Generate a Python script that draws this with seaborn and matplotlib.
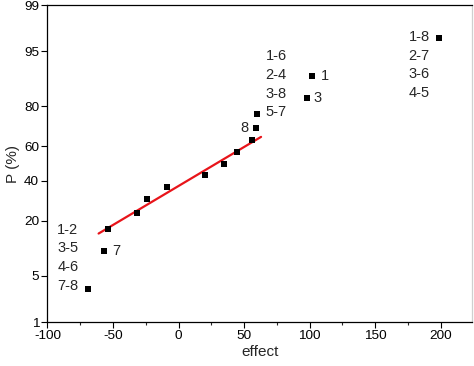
"""
Normal probability plot of effects (probit y axis).
Output: out.png
"""

import math

import matplotlib

matplotlib.use("Agg")
import matplotlib.pyplot as plt
import numpy as np
import pandas as pd
import seaborn as sns
from matplotlib.ticker import FixedLocator, MultipleLocator


# effects (x) and cumulative probability in % (y)
effects = [-69, -57, -54, -32, -24, -9, 20, 35, 45, 56, 59, 60, 98, 102, 199]
probability = [3.3, 10.0, 16.7, 23.3, 30.0, 36.7, 43.3, 50.0, 56.7, 63.3, 70.0, 76.7, 83.3, 90.0, 96.7]

# fitted red line, two ends
fit_effect = [-61, 63]
fit_probability = [15.2, 65.2]

y_ticks = [1, 5, 20, 40, 60, 80, 95, 99]
x_ticks = [-100, -50, 0, 50, 100, 150, 200]

# alias labels: (text, index of the point it belongs to)
point_labels = {
    "left_group": ("1-2\n3-5\n4-6\n7-8", 0),
    "seven": ("7", 1),
    "eight": ("8", 10),
    "mid_group": ("1-6\n2-4\n3-8\n5-7", 11),
    "three": ("3", 12),
    "one": ("1", 13),
    "right_group": ("1-8\n2-7\n3-6\n4-5", 14),
}

_erf = np.vectorize(math.erf, otypes=[float])


def norm_cdf(z):
    return 0.5 * (1.0 + _erf(np.asarray(z, dtype=float) / math.sqrt(2.0)))


def probit(p_percent):
    p = np.clip(np.asarray(p_percent, dtype=float) / 100.0, 1e-9, 1 - 1e-9)
    lo = np.full_like(p, -8.0)
    hi = np.full_like(p, 8.0)
    for _ in range(60):
        mid = 0.5 * (lo + hi)
        below = norm_cdf(mid) < p
        lo = np.where(below, mid, lo)
        hi = np.where(below, hi, mid)
    return 0.5 * (lo + hi)


def inverse_probit(z):
    return 100.0 * norm_cdf(z)


def main() -> None:
    sns.set_style("ticks")
    plt.rcParams["font.family"] = ["Liberation Sans", "DejaVu Sans"]
    plt.rcParams["font.size"] = 10
    plt.rcParams["axes.unicode_minus"] = False

    df = pd.DataFrame({"effect": effects, "P": probability})
    fit_df = pd.DataFrame({"effect": fit_effect, "P": fit_probability})

    fig = plt.figure(figsize=(4.74, 3.66), dpi=100)
    ax = fig.add_axes([0.1002, 0.1202, 0.8956, 0.8661])
    ax.set_yscale("function", functions=(probit, inverse_probit))

    sns.lineplot(data=fit_df, x="effect", y="P", ax=ax, color="#e8141a", linewidth=1.6)
    sns.scatterplot(
        data=df, x="effect", y="P", ax=ax, marker="s", color="black",
        s=19, linewidth=0, zorder=3,
    )

    ax.set_xlim(-100, 224)
    ax.set_ylim(1, 99)
    ax.xaxis.set_major_locator(FixedLocator(x_ticks))
    ax.xaxis.set_minor_locator(MultipleLocator(25))
    ax.yaxis.set_major_locator(FixedLocator(y_ticks))
    ax.yaxis.set_minor_locator(FixedLocator([]))
    ax.set_yticklabels([str(t) for t in y_ticks])
    ax.tick_params(axis="both", which="major", length=4, width=0.8, direction="out",
                   labelsize=9.7, colors="black", pad=2)
    ax.tick_params(axis="x", which="minor", length=2.5, width=0.8, direction="out")

    for side in ["left", "bottom", "top"]:
        ax.spines[side].set_visible(True)
        ax.spines[side].set_color("black")
        ax.spines[side].set_linewidth(0.9)
    ax.spines["right"].set_visible(True)
    ax.spines["right"].set_color("#cfcfcf")
    ax.spines["right"].set_linewidth(0.9)

    ax.set_xlabel("effect", fontsize=11, labelpad=2)
    ax.set_ylabel("P (%)", fontsize=11, labelpad=3)

    text_style = dict(textcoords="offset points", fontsize=10.5, linespacing=1.43)

    def point_of(key):
        idx = point_labels[key][1]
        return (effects[idx], probability[idx])

    ax.annotate(point_labels["left_group"][0], xy=point_of("left_group"),
                xytext=(-7, -3), ha="right", va="bottom", **text_style)
    ax.annotate(point_labels["seven"][0], xy=point_of("seven"),
                xytext=(6, 0), ha="left", va="center", **text_style)
    ax.annotate(point_labels["eight"][0], xy=point_of("eight"),
                xytext=(-5, 0), ha="right", va="center", **text_style)
    ax.annotate(point_labels["mid_group"][0], xy=point_of("mid_group"),
                xytext=(6, -4), ha="left", va="bottom", **text_style)
    ax.annotate(point_labels["three"][0], xy=point_of("three"),
                xytext=(5, 0), ha="left", va="center", **text_style)
    ax.annotate(point_labels["one"][0], xy=point_of("one"),
                xytext=(6, 0), ha="left", va="center", **text_style)
    ax.annotate(point_labels["right_group"][0], xy=point_of("right_group"),
                xytext=(-7, 6), ha="right", va="top", **text_style)

    fig.savefig("out.png", dpi=100)
    plt.close(fig)


if __name__ == "__main__":
    main()
